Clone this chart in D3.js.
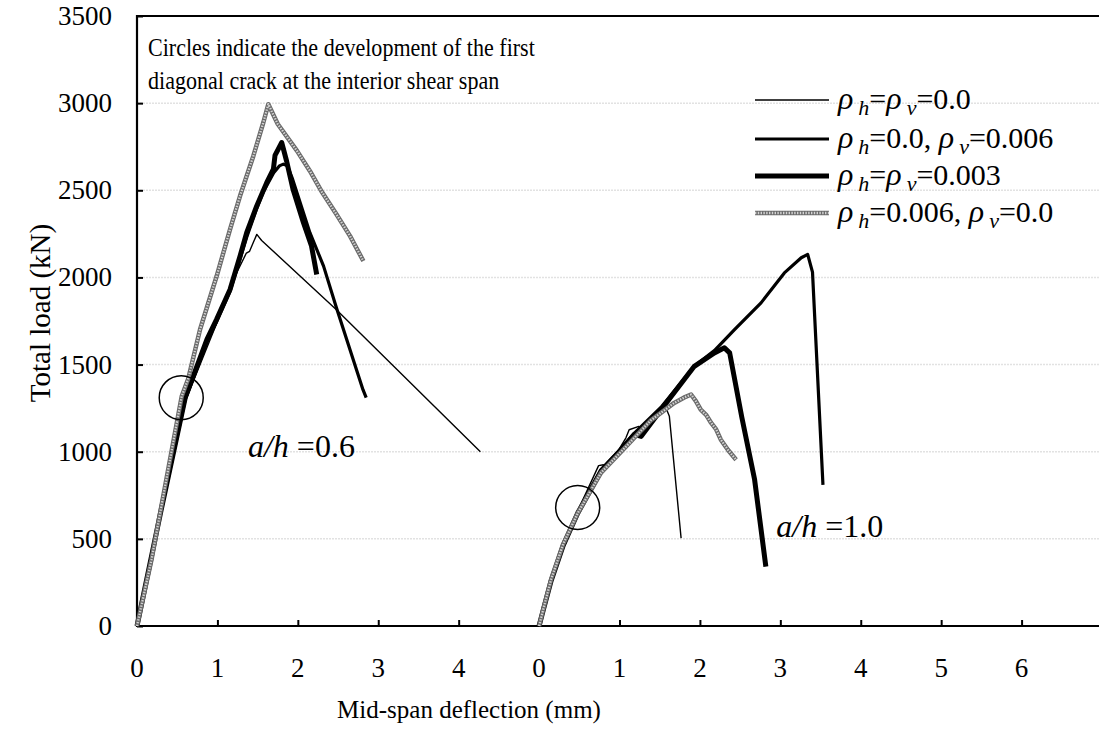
<!DOCTYPE html>
<html>
<head>
<meta charset="utf-8">
<script src="https://cdn.jsdelivr.net/npm/d3@7"></script>
<style>
  html, body { margin: 0; padding: 0; background: #fff; }
  svg { display: block; font-family: "Liberation Serif", "Times New Roman", serif; }
</style>
</head>
<body>
<svg id="chart" width="1099" height="745"></svg>
<script>
// Load–deflection curves, two shear-span ratios drawn side by side on one axis.
// Deflection values are local to each span group; the right group is shifted by spanOffset.
const spanOffset = [0, 5];
const spanLabels = ["a/h", "a/h"];
const spanRatios = ["=0.6", "=1.0"];

const xTickValues = [0, 1, 2, 3, 4, 6, 7, 8, 9, 10, 11];
const xTickLabels = ["0", "1", "2", "3", "4", "0", "1", "2", "3", "4", "5", "6"];
const xLabelValues = [0, 1, 2, 3, 4, 5, 6, 7, 8, 9, 10, 11];
const yTickValues = [0, 500, 1000, 1500, 2000, 2500, 3000, 3500];

// a/h = 0.6
const s06_none = [[0,0],[0.3,650],[0.6,1290],[0.95,1690],[1.24,2027],[1.36,2140],[1.40,2150],[1.45,2205],[1.49,2247],[1.55,2212],[2.48,1815],[4.27,1000]];
const s06_v006 = [[0,0],[0.3,660],[0.6,1300],[0.87,1630],[0.99,1745],[1.157,1920],[1.281,2105],[1.364,2230],[1.489,2395],[1.57,2490],[1.70,2600],[1.77,2640],[1.82,2650],[1.87,2640],[1.93,2570],[2.15,2257],[2.32,2065],[2.48,1826],[2.81,1356],[2.85,1310]];
const s06_hv003 = [[0,0],[0.3,665],[0.6,1310],[0.87,1645],[0.99,1760],[1.157,1931],[1.281,2122],[1.364,2257],[1.489,2410],[1.613,2544],[1.696,2621],[1.716,2700],[1.80,2774],[1.86,2668],[1.94,2506],[2.07,2314],[2.17,2180],[2.235,2017]];
const s06_h006 = [[0,0],[0.18,380],[0.556,1318],[0.638,1420],[0.784,1701],[0.991,2008],[1.157,2276],[1.281,2467],[1.447,2697],[1.571,2889],[1.633,2994],[1.75,2880],[1.99,2726],[2.15,2611],[2.30,2490],[2.48,2362],[2.65,2237],[2.815,2094]];

// a/h = 1.0
const s10_none = [[0,0],[0.05,95],[0.15,270],[0.30,470],[0.48,660],[0.70,880],[0.74,920],[0.80,925],[0.83,905],[0.90,960],[0.99,1011],[1.08,1080],[1.12,1126],[1.24,1145],[1.28,1120],[1.35,1180],[1.48,1241],[1.58,1250],[1.62,1203],[1.766,504]];
const s10_v006 = [[0,0],[0.05,90],[0.15,262],[0.30,465],[0.481,648],[0.771,897],[1.0,1010],[1.185,1107],[1.517,1255],[1.93,1490],[2.18,1580],[2.43,1701],[2.76,1854],[3.05,2026],[3.26,2113],[3.34,2132],[3.40,2030],[3.53,810]];
const s10_hv003 = [[0,0],[0.05,88],[0.15,260],[0.30,462],[0.481,648],[0.771,890],[1.0,1000],[1.185,1100],[1.27,1088],[1.517,1241],[1.93,1490],[2.18,1567],[2.305,1596],[2.37,1567],[2.52,1200],[2.68,840],[2.82,341]];
const s10_h006 = [[0,0],[0.05,92],[0.15,268],[0.30,470],[0.481,648],[0.771,880],[1.0,990],[1.185,1080],[1.39,1180],[1.68,1280],[1.80,1310],[1.89,1328],[1.95,1290],[2.01,1241],[2.08,1210],[2.14,1165],[2.20,1130],[2.26,1069],[2.35,1010],[2.45,954]];

// first diagonal crack at the interior shear span
const crackPoints = [[0.55, 1310], [0.48, 680]];

const seriesNames = ["ρh=ρv=0.0", "ρh=0.0, ρv=0.006", "ρh=ρv=0.003", "ρh=0.006, ρv=0.0"];
const seriesBySpan = [
  [s06_none, s06_v006, s06_hv003, s06_h006],
  [s10_none, s10_v006, s10_hv003, s10_h006]
];

const lineStyles = [
  { kind: "solid", width: 1.4 },
  { kind: "solid", width: 3.2 },
  { kind: "solid", width: 5 },
  { kind: "hatched", width: 4.5 }
];

const svg = d3.select("#chart");
const x = d3.scaleLinear().domain([0, 12]).range([137, 1102]);
const y = d3.scaleLinear().domain([0, 3500]).range([626, 16]);

// faint horizontal gridlines
svg.append("g").selectAll("line")
  .data(yTickValues.filter(v => v > 0 && v < 3500))
  .join("line")
  .attr("x1", x(0)).attr("x2", 1099)
  .attr("y1", d => y(d)).attr("y2", d => y(d))
  .attr("stroke", "#e2e2e2").attr("stroke-width", 1.5)
  .attr("stroke-dasharray", "2,1");

// axes
const yAxis = d3.axisRight(y).tickValues(yTickValues).tickSize(6).tickFormat("");
svg.append("g").attr("transform", `translate(${x(0)},0)`).call(yAxis)
  .call(g => g.select(".domain").remove())
  .call(g => g.selectAll("line").attr("stroke", "#000").attr("stroke-width", 2));

const xAxis = d3.axisTop(x).tickValues(xTickValues).tickSize(6).tickFormat("");
svg.append("g").attr("transform", `translate(0,${y(0)})`).call(xAxis)
  .call(g => g.select(".domain").remove())
  .call(g => g.selectAll("line").attr("stroke", "#000").attr("stroke-width", 2));

// frame: left, top, bottom
svg.append("line").attr("x1", x(0)).attr("x2", x(0)).attr("y1", y(3500) - 1).attr("y2", y(0) + 1)
  .attr("stroke", "#000").attr("stroke-width", 2.2);
svg.append("line").attr("x1", x(0)).attr("x2", 1099).attr("y1", y(3500)).attr("y2", y(3500))
  .attr("stroke", "#000").attr("stroke-width", 2.2);
svg.append("line").attr("x1", x(0)).attr("x2", 1099).attr("y1", y(0)).attr("y2", y(0))
  .attr("stroke", "#000").attr("stroke-width", 2.2);

// tick labels
svg.append("g").selectAll("text")
  .data(yTickValues)
  .join("text")
  .attr("x", 112).attr("y", d => y(d) + 9)
  .attr("text-anchor", "end").attr("font-size", 27)
  .text(d => d);

svg.append("g").selectAll("text")
  .data(xLabelValues)
  .join("text")
  .attr("x", d => x(d)).attr("y", 677)
  .attr("text-anchor", "middle").attr("font-size", 27)
  .text((d, i) => xTickLabels[i]);

// axis titles
svg.append("text")
  .attr("transform", `translate(50,313) rotate(-90)`)
  .attr("text-anchor", "middle").attr("font-size", 29)
  .text("Total load (kN)");
svg.append("text")
  .attr("x", 469).attr("y", 718)
  .attr("text-anchor", "middle").attr("font-size", 25)
  .text("Mid-span deflection (mm)");

// note text (slightly condensed serif)
const noteLines = ["Circles indicate the development of the first", "diagonal crack at the interior shear span"];
noteLines.forEach((txt, i) => {
  svg.append("text")
    .attr("transform", `translate(148,${56 + i * 33}) scale(0.9,1)`)
    .attr("font-size", 24.5)
    .text(txt);
});

// curves
const line = d3.line().x(d => x(d[0])).y(d => y(d[1]));
const curves = svg.append("g").attr("fill", "none").attr("stroke-linejoin", "round");

function drawPath(g, pathD, style) {
  if (style.kind === "hatched") {
    g.append("path").attr("d", pathD).attr("stroke", "#6a6a6a").attr("stroke-width", style.width);
    g.append("path").attr("d", pathD).attr("stroke", "#d4d4d4").attr("stroke-width", style.width - 2.2)
      .attr("stroke-dasharray", "1.4,1.4");
  } else {
    g.append("path").attr("d", pathD).attr("stroke", "#000").attr("stroke-width", style.width);
  }
}

seriesNames.forEach((name, si) => {
  seriesBySpan.forEach((spanSeries, gi) => {
    const pts = spanSeries[si].map(p => [p[0] + spanOffset[gi], p[1]]);
    drawPath(curves, line(pts), lineStyles[si]);
  });
});

// crack circles
svg.append("g").selectAll("circle")
  .data(crackPoints)
  .join("circle")
  .attr("cx", (d, i) => x(d[0] + spanOffset[i]))
  .attr("cy", d => y(d[1]))
  .attr("r", 22)
  .attr("fill", "none").attr("stroke", "#000").attr("stroke-width", 1.5);

// span ratio labels
const ratioPos = [[1.38, 457], [7.95, 537]];
spanLabels.forEach((lab, i) => {
  const t = svg.append("text").attr("x", x(ratioPos[i][0])).attr("y", ratioPos[i][1]).attr("font-size", 32);
  t.append("tspan").attr("font-style", "italic").text(lab);
  t.append("tspan").attr("dx", 8).text(spanRatios[i]);
});

// legend
const legendRows = [
  [["ρ", "s"], ["h", "b"], ["=", "n"], ["ρ", "s"], ["v", "b"], ["=0.0", "n"]],
  [["ρ", "s"], ["h", "b"], ["=0.0, ", "n"], ["ρ", "s"], ["v", "b"], ["=0.006", "n"]],
  [["ρ", "s"], ["h", "b"], ["=", "n"], ["ρ", "s"], ["v", "b"], ["=0.003", "n"]],
  [["ρ", "s"], ["h", "b"], ["=0.006, ", "n"], ["ρ", "s"], ["v", "b"], ["=0.0", "n"]]
];
const legendY = [100, 139, 176, 213];
const legend = svg.append("g").attr("fill", "none");
legendRows.forEach((parts, i) => {
  const ly = legendY[i];
  drawPath(legend, `M755,${ly}H829`, lineStyles[i]);
  const t = svg.append("text").attr("x", 838).attr("y", ly + 9).attr("font-size", 30);
  let sub = false;
  parts.forEach(([txt, kind]) => {
    const ts = t.append("tspan").text(txt);
    if (kind === "s") {
      ts.attr("font-style", "italic").attr("font-size", 32);
      if (sub) { ts.attr("dy", -6); sub = false; }
    } else if (kind === "b") {
      ts.attr("font-style", "italic").attr("font-size", 22).attr("dx", 5).attr("dy", 6);
      sub = true;
    } else {
      if (sub) { ts.attr("dy", -6); sub = false; }
    }
  });
});
</script>
</body>
</html>
